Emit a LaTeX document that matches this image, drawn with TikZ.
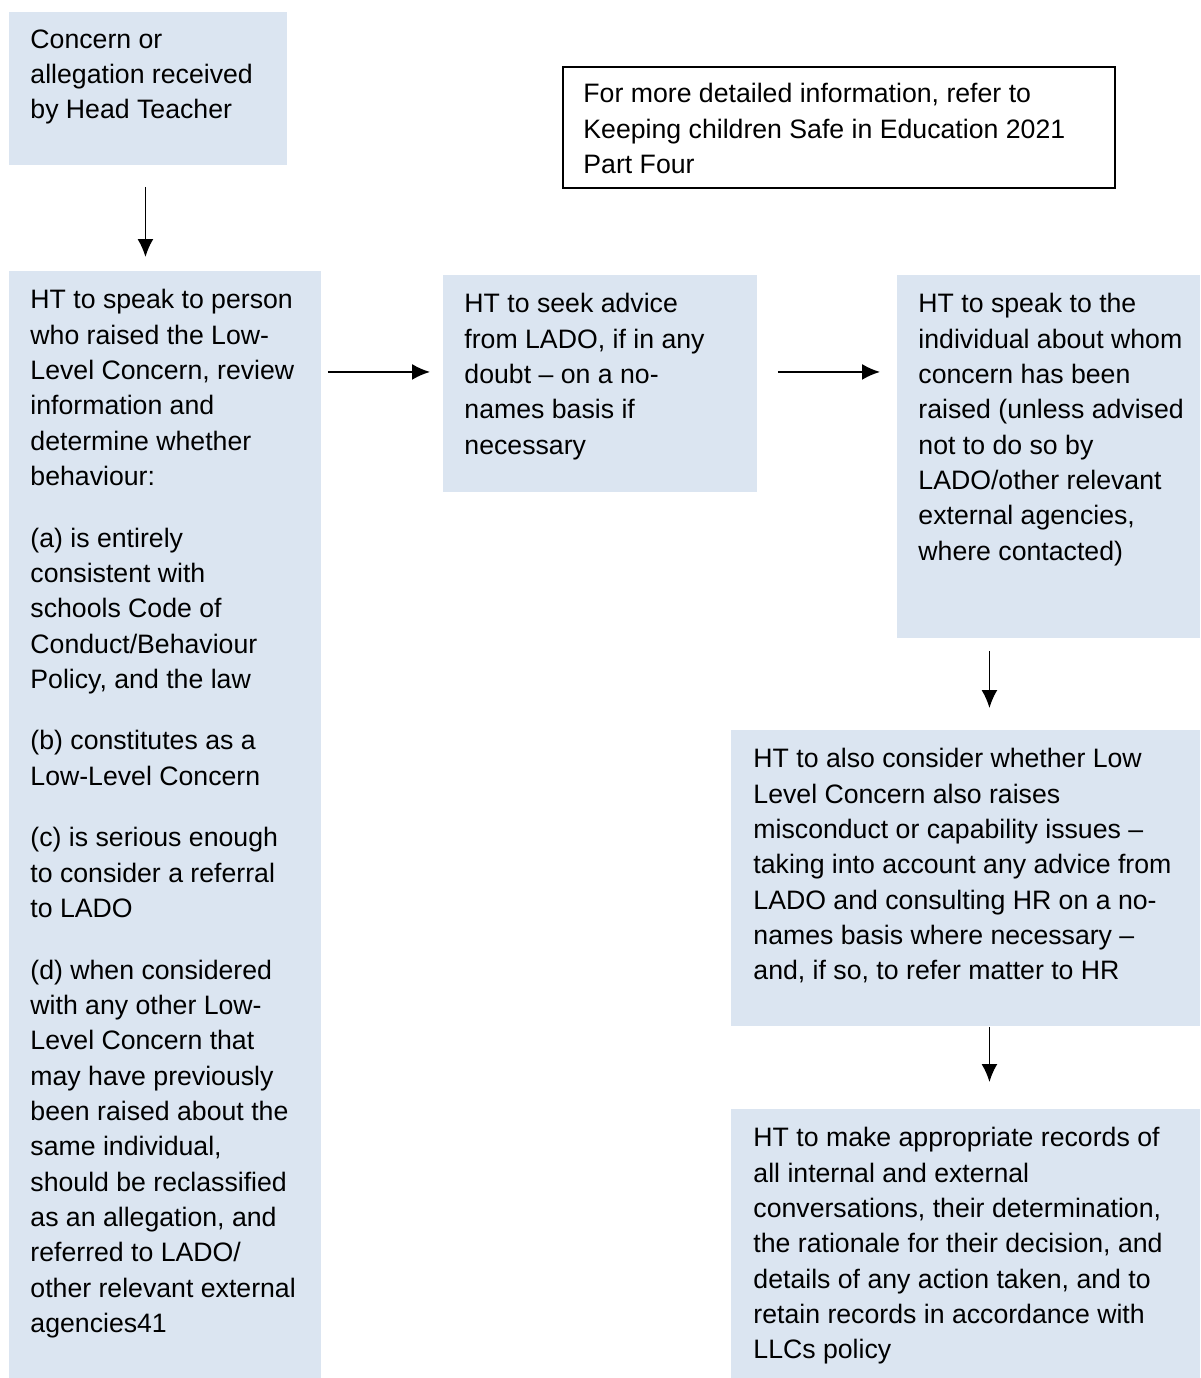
\documentclass[tikz,border=0pt]{standalone}
\usepackage{fontspec}
\setmainfont{Liberation Sans}
\usepackage{tikz}
\usetikzlibrary{arrows.meta, calc}

\definecolor{boxblue}{HTML}{DBE5F1}
\newcommand\pxu{0.45pt}

\begin{document}
\begin{tikzpicture}[x=0.45pt, y=-0.45pt,
	            box/.style={
	            fill=boxblue,
	            draw=none,
	            inner sep=0pt,
	            anchor=north west,
	            },
	            note/.style={
	            draw=black,
	            line width=0.8pt,
	            inner sep=0pt,
	            anchor=north west,
	            },
	            txt/.style={
	            anchor=north west,
	            inner sep=0pt,
	            align=left,
	            font=\fontsize{12}{15.9}\selectfont,
	            },
	            arrow/.style={
	            draw,
	            line width=0.8pt,
	            -{Latex[length=18*\pxu, width=16*\pxu]},
	            }]

	        \useasboundingbox (0,0) rectangle (1200,1378);

	        % boxes
	        \node[box, minimum width=278*\pxu, minimum height=153*\pxu] (concern) at (9,12) {};
	        \node[note, minimum width=552*\pxu, minimum height=121*\pxu] (info) at (562,66) {};
	        \node[box, minimum width=312*\pxu, minimum height=1107*\pxu] (speak) at (9,271) {};
	        \node[box, minimum width=314*\pxu, minimum height=217*\pxu] (seek) at (443,275) {};
	        \node[box, minimum width=303*\pxu, minimum height=363*\pxu] (individual) at (897,275) {};
	        \node[box, minimum width=469*\pxu, minimum height=296*\pxu] (consider) at (731,730) {};
	        \node[box, minimum width=469*\pxu, minimum height=269*\pxu] (records) at (731,1109) {};

	        % texts
	        \node[txt] (concerntxt) at ($(concern.north west)+(21,17)$) {Concern or\\allegation received\\by Head Teacher};
	        \node[txt] (infotxt) at ($(info.north west)+(21,17)$) {For more detailed information, refer to\\Keeping children Safe in Education 2021\\Part Four};
	        \node[txt] (speaktxt) at ($(speak.north west)+(21,18)$) {HT to speak to person\\who raised the Low-\\Level Concern, review\\information and\\determine whether\\behaviour:\\[11.8pt]
	            (a) is entirely\\consistent with\\schools Code of\\Conduct/Behaviour\\Policy, and the law\\[11.8pt]
	            (b) constitutes as a\\Low-Level Concern\\[11.8pt]
	            (c) is serious enough\\to consider a referral\\to LADO\\[11.8pt]
	            (d) when considered\\with any other Low-\\Level Concern that\\may have previously\\been raised about the\\same individual,\\should be reclassified\\as an allegation, and\\referred to LADO/\\other relevant external\\agencies41};
	        \node[txt] (seektxt) at ($(seek.north west)+(21,18)$) {HT to seek advice\\from LADO, if in any\\doubt – on a no-\\names basis if\\necessary};
	        \node[txt] (individualtxt) at ($(individual.north west)+(21,18)$) {HT to speak to the\\individual about whom\\concern has been\\raised (unless advised\\not to do so by\\LADO/other relevant\\external agencies,\\where contacted)};
	        \node[txt] (considertxt) at ($(consider.north west)+(22,18)$) {HT to also consider whether Low\\Level Concern also raises\\misconduct or capability issues –\\taking into account any advice from\\LADO and consulting HR on a no-\\names basis where necessary –\\and, if so, to refer matter to HR};
	        \node[txt] (recordstxt) at ($(records.north west)+(22,18)$) {HT to make appropriate records of\\all internal and external\\conversations, their determination,\\the rationale for their decision, and\\details of any action taken, and to\\retain records in accordance with\\LLCs policy};

	        % arrows
	        \coordinate (row) at ($(seek.west)+(0,-12)$);
	        \coordinate (col) at ($(consider.north)+(23.5,0)$);
	        \coordinate (drop) at ($(concern.south)+(-3,0)$);

	        \draw[arrow, shorten <=21*\pxu, shorten >=14*\pxu] (drop) -- (drop |- speak.north);
	        \draw[arrow, shorten <=6*\pxu, shorten >=13*\pxu] (speak.east |- row) -- (row);
	        \draw[arrow, shorten <=20*\pxu, shorten >=17*\pxu] (seek.east |- row) -- (individual.west |- row);
	        \draw[arrow, shorten <=12*\pxu, shorten >=22*\pxu] (col |- individual.south) -- (col);
	        \draw[arrow, shorten >=27*\pxu] (col |- consider.south) -- (col |- records.north);

	    \end{tikzpicture}
\end{document}
